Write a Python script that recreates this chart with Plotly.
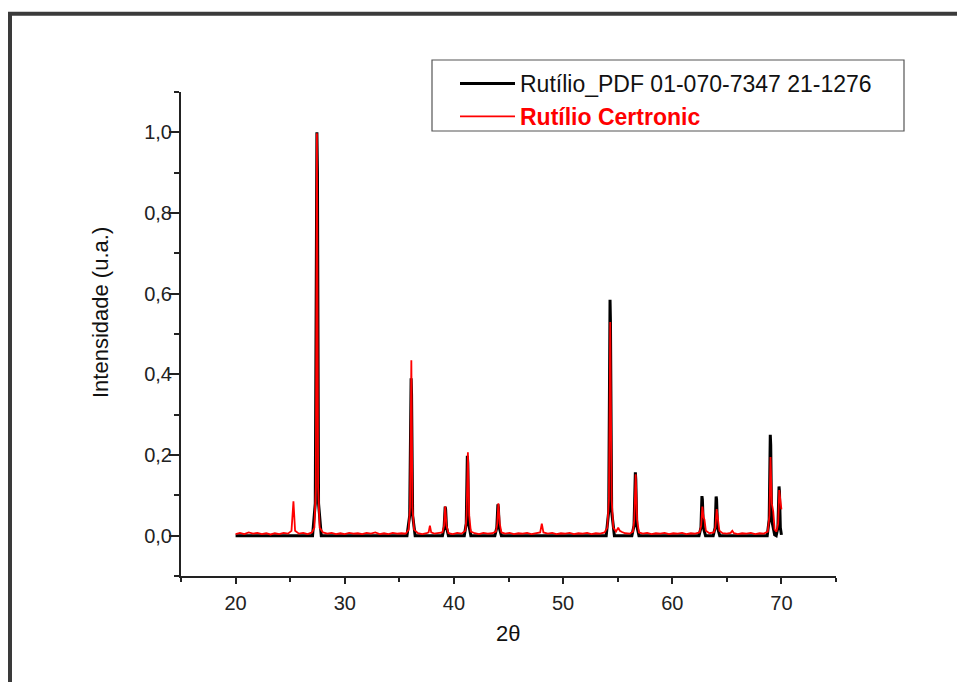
import plotly.graph_objects as go

# ---------------- data ----------------
pdf_name = "Rutílio_PDF 01-070-7347 21-1276"
cert_name = "Rutílio Certronic"

pdf_2theta = [20.0, 27.05, 27.3, 27.4, 27.45, 27.5, 27.6, 27.85,
              35.7, 35.95, 36.04, 36.08, 36.12, 36.22, 36.45,
              38.95, 39.1, 39.17, 39.2, 39.24, 39.32, 39.5,
              40.95, 41.13, 41.2, 41.23, 41.27, 41.35, 41.55,
              43.75, 43.93, 44.0, 44.03, 44.07, 44.15, 44.35,
              53.95, 54.18, 54.26, 54.3, 54.34, 54.45, 54.7,
              56.3, 56.5, 56.58, 56.62, 56.66, 56.75, 56.95,
              62.45, 62.63, 62.69, 62.72, 62.76, 62.85, 63.05,
              63.75, 63.93, 63.99, 64.02, 64.06, 64.15, 64.35,
              68.7, 68.88, 68.94, 68.98, 69.02, 69.1, 69.38,
              69.52, 69.68, 69.74, 69.78, 69.82, 69.9, 70.0]
pdf_int = [0.0, 0.0, 0.08, 0.9, 1.0, 0.9, 0.08, 0.0,
           0.0, 0.05, 0.35, 0.39, 0.35, 0.05, 0.0,
           0.0, 0.02, 0.065, 0.072, 0.065, 0.02, 0.0,
           0.0, 0.03, 0.18, 0.198, 0.18, 0.03, 0.0,
           0.0, 0.02, 0.07, 0.078, 0.07, 0.02, 0.0,
           0.0, 0.06, 0.53, 0.585, 0.53, 0.06, 0.0,
           0.0, 0.025, 0.14, 0.157, 0.14, 0.025, 0.0,
           0.0, 0.02, 0.09, 0.098, 0.09, 0.02, 0.0,
           0.0, 0.02, 0.09, 0.097, 0.09, 0.02, 0.0,
           0.0, 0.04, 0.225, 0.25, 0.225, 0.04, 0.002,
           0.0, 0.02, 0.11, 0.122, 0.11, 0.02, 0.002]

cert_2theta = [20.0, 20.4, 20.8, 21.2, 21.6, 22.0, 22.4, 22.8, 23.2, 23.6, 24.0, 24.4, 24.8,
               25.12, 25.3, 25.45, 25.8, 26.2, 26.6, 27.0,
               27.22, 27.35, 27.45, 27.56, 27.7,
               28.0, 28.4, 28.8, 29.2, 29.6, 30.0, 30.4, 30.8, 31.2, 31.6, 32.0, 32.4, 32.8,
               33.2, 33.6, 34.0, 34.4, 34.8, 35.2, 35.6,
               35.85, 35.98, 36.1, 36.2, 36.35,
               36.7, 37.1, 37.5, 37.68, 37.8, 37.92, 38.2, 38.6,
               38.95, 39.1, 39.2, 39.32, 39.5,
               39.9, 40.3, 40.7, 41.05, 41.16, 41.28, 41.4, 41.55,
               41.9, 42.3, 42.7, 43.1, 43.5, 43.85, 43.97, 44.07, 44.2, 44.35,
               44.7, 45.1, 45.5, 45.9, 46.3, 46.7, 47.1, 47.5, 47.9, 48.05, 48.2,
               48.6, 49.0, 49.4, 49.8, 50.2, 50.6, 51.0, 51.4, 51.8, 52.2, 52.6, 53.0, 53.4, 53.8,
               54.05, 54.2, 54.32, 54.45, 54.6,
               54.85, 55.05, 55.2, 55.4, 55.7, 56.1,
               56.4, 56.52, 56.65, 56.78, 56.95,
               57.3, 57.7, 58.1, 58.5, 58.9, 59.3, 59.7, 60.1, 60.5, 60.9, 61.3, 61.7, 62.1,
               62.5, 62.65, 62.76, 62.87, 62.95, 63.08,
               63.4, 63.8, 63.95, 64.07, 64.2, 64.32,
               64.6, 65.0, 65.35, 65.5, 65.65, 66.0, 66.4, 66.8, 67.2, 67.6, 68.0, 68.4,
               68.75, 68.9, 69.0, 69.12, 69.25, 69.38,
               69.55, 69.7, 69.8, 69.92, 70.0]
cert_int = [0.004, 0.007, 0.004, 0.008, 0.005, 0.007, 0.004, 0.006, 0.003, 0.006, 0.004, 0.007, 0.005,
            0.012, 0.085, 0.012, 0.005, 0.007, 0.004, 0.008,
            0.02, 0.12, 0.998, 0.12, 0.02,
            0.008, 0.005, 0.007, 0.004, 0.006, 0.004, 0.007, 0.005, 0.006, 0.004, 0.007, 0.005, 0.008,
            0.004, 0.006, 0.004, 0.007, 0.005, 0.006, 0.005,
            0.015, 0.07, 0.435, 0.07, 0.015,
            0.006, 0.004, 0.006, 0.008, 0.025, 0.008, 0.005, 0.007,
            0.008, 0.025, 0.073, 0.025, 0.006,
            0.004, 0.007, 0.005, 0.012, 0.05, 0.207, 0.05, 0.01,
            0.006, 0.004, 0.007, 0.005, 0.006, 0.01, 0.03, 0.08, 0.03, 0.008,
            0.005, 0.007, 0.004, 0.006, 0.005, 0.007, 0.004, 0.006, 0.008, 0.03, 0.008,
            0.005, 0.007, 0.004, 0.006, 0.005, 0.007, 0.004, 0.006, 0.005, 0.007, 0.004, 0.006, 0.005, 0.008,
            0.02, 0.09, 0.53, 0.09, 0.02,
            0.01, 0.02, 0.012, 0.009, 0.006, 0.005,
            0.01, 0.04, 0.152, 0.04, 0.008,
            0.005, 0.007, 0.004, 0.006, 0.005, 0.007, 0.004, 0.006, 0.005, 0.007, 0.004, 0.006, 0.005,
            0.008, 0.025, 0.072, 0.045, 0.04, 0.012,
            0.006, 0.008, 0.02, 0.066, 0.04, 0.012,
            0.006, 0.005, 0.007, 0.012, 0.006, 0.004, 0.006, 0.005, 0.007, 0.004, 0.006, 0.005,
            0.01, 0.05, 0.195, 0.08, 0.06, 0.015,
            0.01, 0.03, 0.113, 0.075, 0.065]

x_ticks = [20, 30, 40, 50, 60, 70]
y_ticks = [0.0, 0.2, 0.4, 0.6, 0.8, 1.0]
x_title = "2θ"
y_title = "Intensidade (u.a.)"

# ---------------- figure ----------------
W, H = 957, 682
L, R, T, B = 181, 121, 92, 106
pw, ph = W - L - R, H - T - B

def px(xp):
    return (xp - L) / pw

def py(yp):
    return (H - B - yp) / ph

FONT = "Liberation Sans, Arial, sans-serif"
AX = "#222222"

fig = go.Figure()
fig.add_trace(go.Scatter(x=pdf_2theta, y=pdf_int, mode="lines", name=pdf_name,
                         line=dict(color="#000000", width=3)))
fig.add_trace(go.Scatter(x=cert_2theta, y=cert_int, mode="lines",
                         name="<b><span style='color:#ff0000'>" + cert_name + "</span></b>",
                         line=dict(color="#ff0000", width=1.8)))

fig.update_layout(
    width=W, height=H,
    margin=dict(l=L, r=R, t=T, b=B, autoexpand=False),
    paper_bgcolor="white", plot_bgcolor="white",
    separators=",.",
    font=dict(family=FONT, color="#111111"),
    showlegend=True,
    legend=dict(x=px(455), y=py(62), xanchor="left", yanchor="top",
                bgcolor="rgba(0,0,0,0)", borderwidth=0,
                font=dict(family=FONT, size=23, color="#111111"),
                itemwidth=55, tracegroupgap=0),
    xaxis=dict(range=[15, 75], showgrid=False, zeroline=False,
               showline=True, linecolor=AX, linewidth=2,
               tickmode="array", tickvals=x_ticks, ticktext=[str(v) for v in x_ticks],
               ticks="outside", ticklen=6, tickwidth=2, tickcolor=AX,
               ticklabelstandoff=2,
               minor=dict(tickmode="array", tickvals=[15, 25, 35, 45, 55, 65, 75],
                          ticks="outside", ticklen=4, tickwidth=2, tickcolor=AX),
               tickfont=dict(family=FONT, size=20, color="#222222")),
    yaxis=dict(range=[-0.1, 1.1], showgrid=False, zeroline=False,
               showline=True, linecolor=AX, linewidth=2,
               tickmode="array", tickvals=y_ticks, tickformat=".1f",
               ticks="outside", ticklen=10, tickwidth=2, tickcolor=AX,
               ticklabelstandoff=-7,
               minor=dict(tickmode="array", tickvals=[-0.1, 0.1, 0.3, 0.5, 0.7, 0.9, 1.1],
                          ticks="outside", ticklen=5, tickwidth=2, tickcolor=AX),
               tickfont=dict(family=FONT, size=20, color="#222222")),
)

# axis titles
fig.add_annotation(text=y_title, xref="paper", yref="paper", x=px(100), y=py(313),
                   xanchor="center", yanchor="middle",
                   showarrow=False, textangle=-90,
                   font=dict(family=FONT, size=22, color="#111111"))
fig.add_annotation(text=x_title, xref="paper", yref="paper", x=px(508), y=py(633),
                   xanchor="center", yanchor="middle",
                   showarrow=False, font=dict(family=FONT, size=22, color="#111111"))

# legend box and outer frame
fig.add_shape(type="rect", xref="paper", yref="paper",
              x0=px(432), x1=px(904), y0=py(60), y1=py(131),
              line=dict(color="#555555", width=1.2), fillcolor="rgba(0,0,0,0)", layer="below")
fig.add_shape(type="line", xref="paper", yref="paper",
              x0=px(8), x1=px(960), y0=py(13.7), y1=py(13.7),
              line=dict(color="#3a3a3a", width=4))
fig.add_shape(type="line", xref="paper", yref="paper",
              x0=px(10), x1=px(10), y0=py(12), y1=py(690),
              line=dict(color="#3a3a3a", width=4))

fig.write_html("out.html")
